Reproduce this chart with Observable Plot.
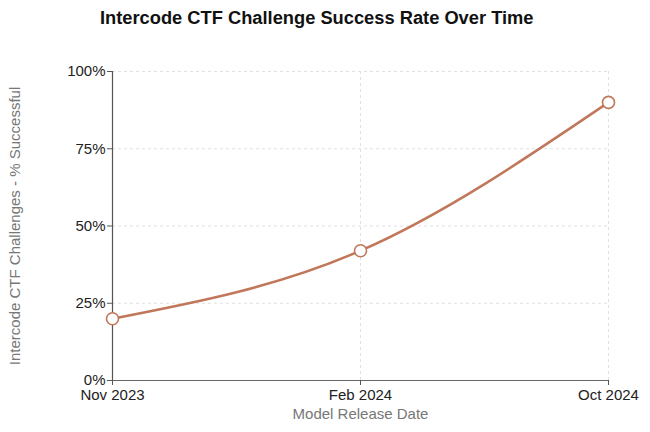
<!DOCTYPE html>
<html>
<head>
<meta charset="utf-8">
<script src="https://cdn.jsdelivr.net/npm/d3@7"></script>
<script src="https://cdn.jsdelivr.net/npm/@observablehq/plot@0.6"></script>
<style>
  html, body { margin: 0; padding: 0; background: #fff; }
  body { width: 650px; height: 432px; overflow: hidden; font-family: "Liberation Sans", Arial, sans-serif; }
  #title { height: 40px; box-sizing: border-box; padding-top: 7px; padding-left: 100px; font-size: 18.3px; font-weight: bold; color: #111; letter-spacing: 0px; }
</style>
</head>
<body>
<div id="title">Intercode CTF Challenge Success Rate Over Time</div>
<div id="chart"></div>
<script>
const releaseDates = ["Nov 2023", "Feb 2024", "Oct 2024"];
const successRates = [20, 42, 90];
const yTicks = [0, 25, 50, 75, 100];
const lineColor = "#c0775a";

const data = releaseDates.map((d, i) => ({date: d, rate: successRates[i]}));

const chart = Plot.plot({
  width: 650,
  height: 392,
  marginTop: 31,
  marginBottom: 52,
  marginLeft: 112,
  marginRight: 42,
  style: {fontFamily: "'Liberation Sans', Arial, sans-serif", fontSize: "15px", color: "#222", background: "#fff"},
  x: {type: "point", domain: releaseDates, padding: 0, label: null},
  y: {domain: [0, 100], label: null},
  marks: [
    Plot.gridY(yTicks, {stroke: "#e0e0e0", strokeOpacity: 1, strokeDasharray: "3,3"}),
    Plot.gridX(releaseDates, {stroke: "#e0e0e0", strokeOpacity: 1, strokeDasharray: "3,3"}),
    Plot.ruleX([releaseDates[0]], {stroke: "#555", strokeWidth: 1.2}),
    Plot.ruleY([yTicks[0]], {stroke: "#666", strokeWidth: 1.2}),
    Plot.axisY(yTicks, {tickFormat: d => d + "%", tickSize: 5, tickPadding: 2, stroke: "#555", fill: "#222", fontSize: 15, label: null}),
    Plot.axisX(releaseDates, {tickSize: 5, tickPadding: 4, stroke: "#555", fill: "#222", fontSize: 15, label: null}),
    Plot.line(data, {x: "date", y: "rate", stroke: lineColor, strokeWidth: 2.5, curve: "monotone-x"}),
    Plot.dot(data, {x: "date", y: "rate", r: 6, fill: "#fff", stroke: lineColor, strokeWidth: 1.6}),
    Plot.text(["Model Release Date"], {frameAnchor: "bottom", dy: 38, fill: "#777", fontSize: 15}),
    Plot.text(["Intercode CTF Challenges - % Successful"], {frameAnchor: "left", textAnchor: "middle", dx: -97, rotate: -90, fill: "#777", fontSize: 15})
  ]
});
document.getElementById("chart").appendChild(chart);
</script>
</body>
</html>
